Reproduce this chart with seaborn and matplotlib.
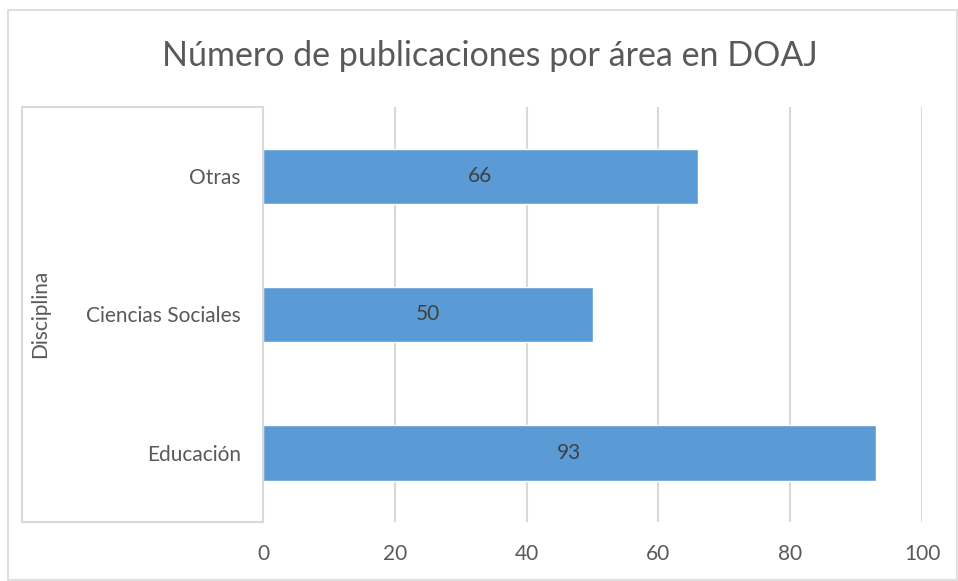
import pandas as pd
import matplotlib
matplotlib.use("Agg")
import matplotlib.pyplot as plt
from matplotlib.lines import Line2D
from matplotlib.patches import Rectangle
import seaborn as sns

# Data (top to bottom)
categories = ["Otras", "Ciencias Sociales", "Educación"]
publicaciones = [66, 50, 93]
x_ticks = [0, 20, 40, 60, 80, 100]

df = pd.DataFrame({"Disciplina": categories, "Publicaciones": publicaciones})

sns.set_style("white")
plt.rcParams["font.family"] = ["Lato", "DejaVu Sans"]

text_color = "#595959"
grid_color = "#d9d9d9"

fig = plt.figure(figsize=(9.58, 5.81), dpi=100)
ax = fig.add_axes([263 / 958, 59 / 581, 659 / 958, 415 / 581])

# Vertical gridlines behind the bars
for t in x_ticks[1:]:
    ax.axvline(t, color=grid_color, lw=1.5, zorder=0)

sns.barplot(data=df, x="Publicaciones", y="Disciplina", orient="h",
            color="#5b9bd5", saturation=1, width=0.4, ax=ax, zorder=2)

# Value labels in the middle of the bars
ax.bar_label(ax.containers[0], label_type="center", fontsize=15, color="#404040")

ax.set_xlim(0, 100)
ax.set_ylim(2.5, -0.5)
ax.set_xticks(x_ticks)
ax.tick_params(axis="both", length=0, labelsize=15, labelcolor=text_color)
ax.tick_params(axis="x", pad=16)
ax.tick_params(axis="y", pad=16)
ax.set_xlabel("")
ax.set_ylabel("")

for side in ["top", "right", "bottom"]:
    ax.spines[side].set_visible(False)
ax.spines["left"].set_color(grid_color)
ax.spines["left"].set_linewidth(1.5)

# Axis title box on the left, like the Excel category axis frame
W, H = 958, 581
def fx(px):
    return px / W
def fy(py):
    return 1 - py / H
box_kw = dict(color=grid_color, lw=1.5, transform=fig.transFigure)
fig.add_artist(Line2D([fx(22), fx(263)], [fy(107), fy(107)], **box_kw))
fig.add_artist(Line2D([fx(22), fx(263)], [fy(522), fy(522)], **box_kw))
fig.add_artist(Line2D([fx(22), fx(22)], [fy(107), fy(522)], **box_kw))

# Outer chart border
fig.add_artist(Rectangle((fx(8), fy(580)), fx(949), 570 / H, fill=False,
                         edgecolor=grid_color, lw=1.2, transform=fig.transFigure))

fig.text(fx(40), fy(314), "Disciplina", rotation=90, ha="center", va="center",
         fontsize=15, color=text_color)

fig.suptitle("Número de publicaciones por área en DOAJ", x=fx(490), y=fy(56),
             ha="center", va="center", fontsize=24.5, color=text_color)

fig.savefig("out.png", dpi=100)
